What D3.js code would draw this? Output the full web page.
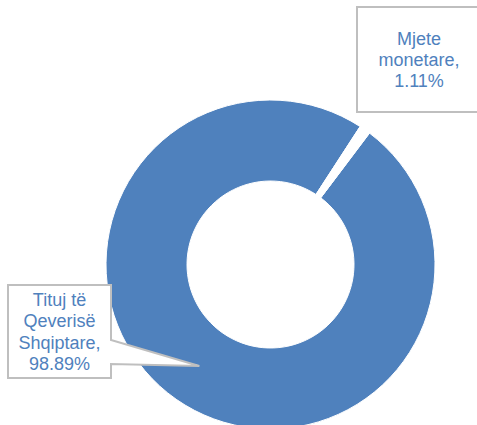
<html>
  <head>
    <meta charset="utf-8">
    <style>
      body { margin: 0; background: #fff; }
      svg { display: block; }
    </style>
  </head>
  <body>
    <script src="https://d3js.org/d3.v7.min.js"></script>
    <script>
      (function() {
        var WIDTH = 477;
        var HEIGHT = 425;

        // Chart data
        var categories = ['Tituj të Qeverisë Shqiptare', 'Mjete monetare'];
        var shares = [98.89, 1.11];
        var labelLines = [
          ['Tituj të', 'Qeverisë', 'Shqiptare,', '98.89%'],
          ['Mjete', 'monetare,', '1.11%']
        ];

        // Donut geometry
        var CX = 270.5;
        var CY = 264.5;
        var OUTER_RADIUS = 164.5;
        var INNER_RADIUS = 83.5;
        var START_ANGLE = 37 * Math.PI / 180;

        var BLUE = '#4F81BD';
        var BORDER = '#BFBFBF';
        var FONT = '"Liberation Sans", Arial, sans-serif';
        var LINE_HEIGHT = 21.3;

        var svg = d3.select('body')
          .append('svg')
          .attr('width', WIDTH)
          .attr('height', HEIGHT);

        var pie = d3.pie()
          .sort(null)
          .value(function(d) { return d.value; })
          .startAngle(START_ANGLE)
          .endAngle(START_ANGLE + 2 * Math.PI);

        var arc = d3.arc()
          .innerRadius(INNER_RADIUS)
          .outerRadius(OUTER_RADIUS);

        var data = categories.map(function(c, i) {
          return { name: c, value: shares[i], lines: labelLines[i] };
        });
        var arcs = pie(data);

        var g = svg.append('g')
          .attr('transform', 'translate(' + CX + ',' + CY + ')');

        // The small slice shows as a white gap in the ring
        g.selectAll('path.slice')
          .data(arcs)
          .enter()
          .append('path')
          .attr('class', 'slice')
          .attr('d', arc)
          .style('fill', function(d, i) { return i === 0 ? BLUE : '#fff'; })
          .style('stroke', '#fff')
          .style('stroke-width', 1);

        // Callout boxes
        var boxes = [
          { x: 8, y: 285, w: 103, h: 93, pointer: [340, 364] },
          { x: 357, y: 7, w: 124, h: 105, pointer: null }
        ];

        boxes.forEach(function(b, i) {
          var p = d3.path();
          p.moveTo(b.x, b.y);
          p.lineTo(b.x + b.w, b.y);
          if (b.pointer) {
            var c = arc.centroid(arcs[i]);
            p.lineTo(b.x + b.w, b.pointer[0]);
            p.lineTo(CX + c[0], CY + c[1]);
            p.lineTo(b.x + b.w, b.pointer[1]);
          }
          p.lineTo(b.x + b.w, b.y + b.h);
          p.lineTo(b.x, b.y + b.h);
          p.closePath();

          svg.append('path')
            .attr('d', p.toString())
            .style('fill', '#fff')
            .style('stroke', BORDER)
            .style('stroke-width', 2);

          var lines = arcs[i].data.lines;
          var cx = b.x + b.w / 2;
          var firstBaseline = b.y + b.h / 2 - (lines.length - 1) * LINE_HEIGHT / 2 + 6.5;

          var text = svg.append('text')
            .attr('font-family', FONT)
            .attr('font-size', '18px')
            .attr('fill', BLUE)
            .attr('text-anchor', 'middle');

          text.selectAll('tspan')
            .data(lines)
            .enter()
            .append('tspan')
            .attr('x', cx)
            .attr('y', function(d, j) { return firstBaseline + j * LINE_HEIGHT; })
            .text(function(d) { return d; });
        });
      })();
    </script>
  </body>
</html>
